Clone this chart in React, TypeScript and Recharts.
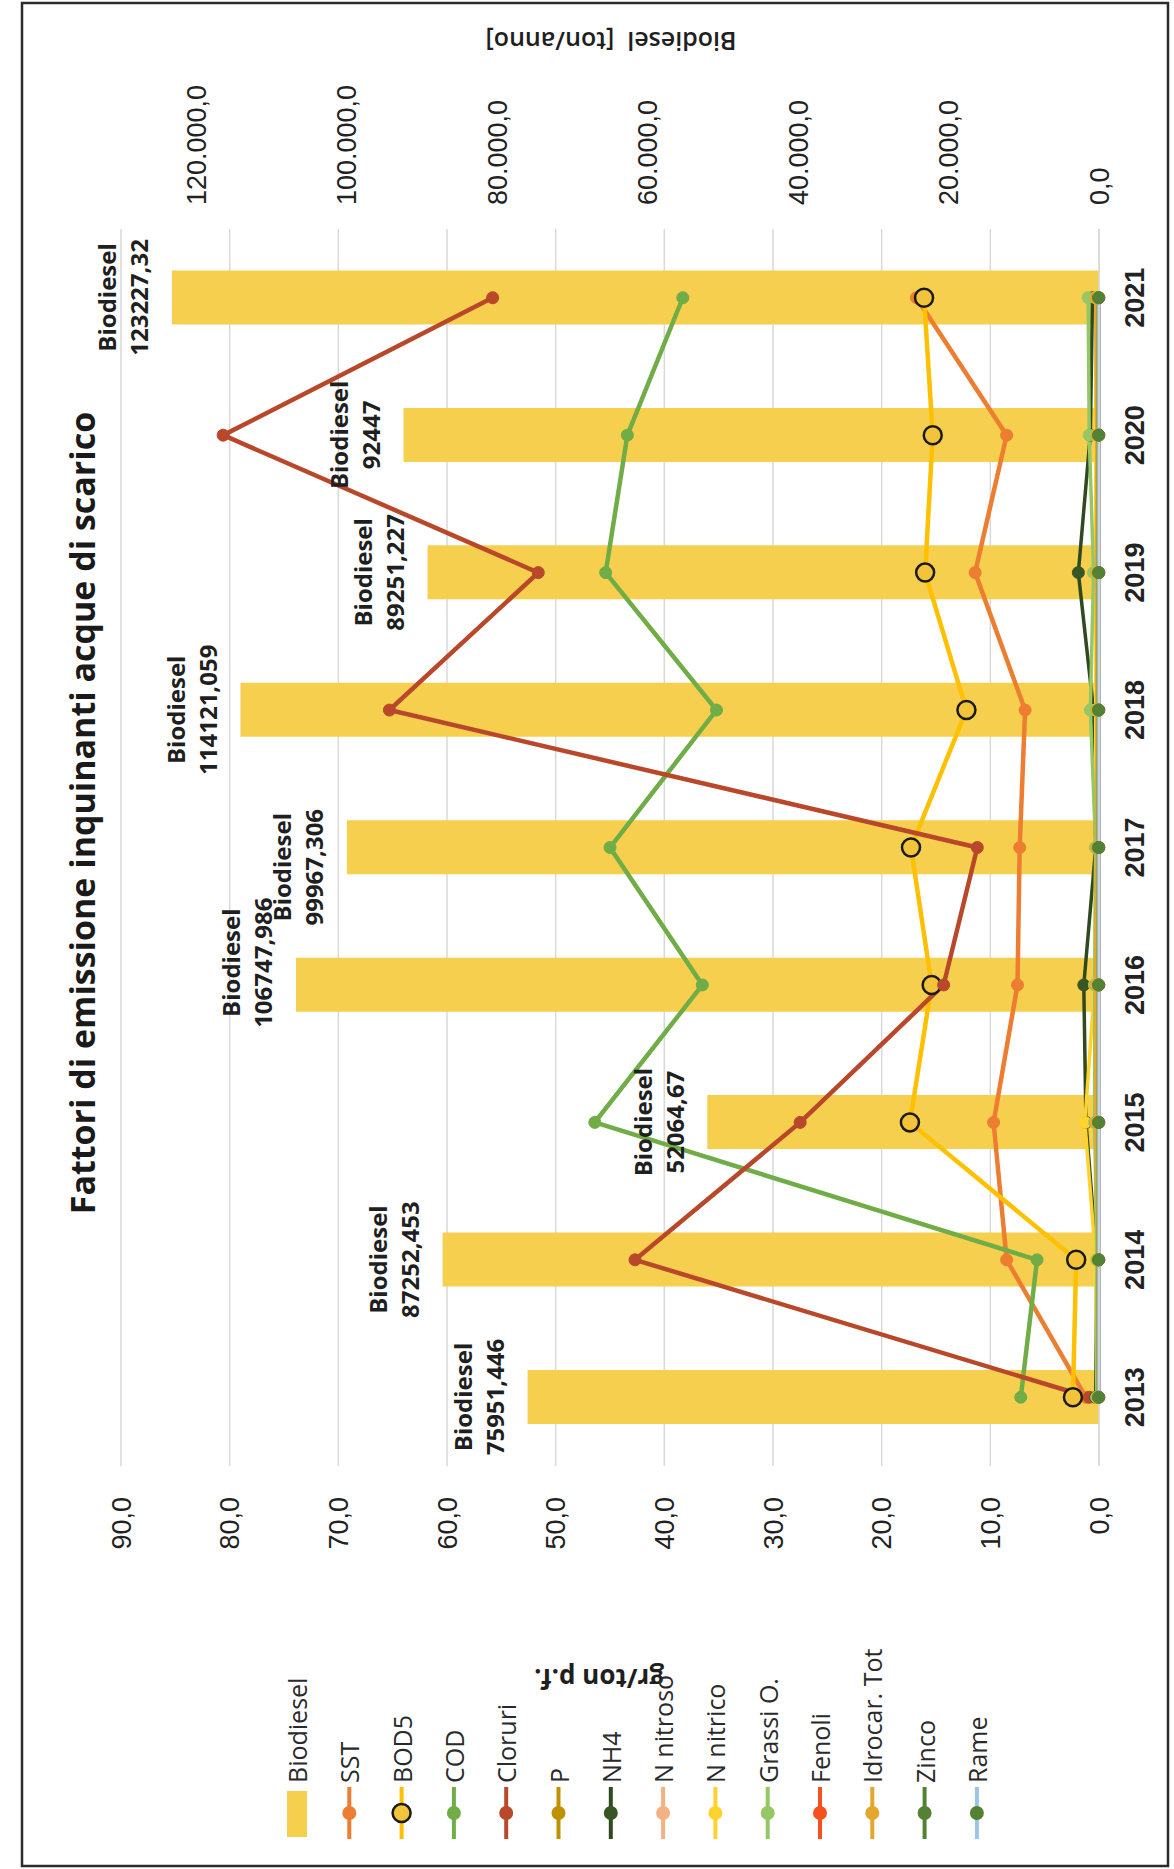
import React from "react";
import {
  ComposedChart,
  Bar,
  Line,
  XAxis,
  YAxis,
  CartesianGrid,
  LabelList,
} from "recharts";

// ----- Data -----
const years = ["2013", "2014", "2015", "2016", "2017", "2018", "2019", "2020", "2021"];
const biodiesel = [75951.446, 87252.453, 52064.67, 106747.986, 99967.306, 114121.059, 89251.227, 92447, 123227.32];
const sst = [1.2, 8.5, 9.7, 7.5, 7.3, 6.8, 11.4, 8.5, 16.8];
const bod5 = [2.4, 2.1, 17.4, 15.4, 17.3, 12.2, 16.0, 15.3, 16.1];
const cod = [7.2, 5.7, 46.4, 36.5, 45.0, 35.2, 45.4, 43.4, 38.3];
const cloruri = [0.9, 42.7, 27.5, 14.3, 11.2, 65.3, 51.6, 80.6, 55.8];
const p = [0.2, 0.1, 0.2, 0.2, 0.1, 0.1, 0.1, 0.1, 0.1];
const nh4 = [0.3, 0.2, 1.2, 1.4, 0.3, 0.5, 1.9, 0.8, 0.6];
const nNitroso = [0.1, 0.1, 0.1, 0.1, 0.05, 0.1, 0.1, 0.1, 0.1];
const nNitrico = [0.2, 0.3, 1.3, 0.4, 0.3, 0.3, 0.3, 0.3, 0.3];
const grassi = [0.2, 0.2, 0.4, 0.4, 0.3, 0.8, 0.5, 0.9, 1.0];
const fenoli = [0.02, 0.02, 0.03, 0.02, 0.02, 0.02, 0.02, 0.02, 0.02];
const idrocar = [0.1, 0.1, 0.3, 0.3, 0.2, 0.2, 0.2, 0.2, 0.3];
const zinco = [0.05, 0.05, 0.05, 0.05, 0.05, 0.05, 0.05, 0.05, 0.05];
const rame = [0.01, 0.01, 0.01, 0.01, 0.01, 0.01, 0.01, 0.01, 0.01];

const leftTicks = [0, 10, 20, 30, 40, 50, 60, 70, 80, 90];
const rightTicks = [0, 20000, 40000, 60000, 80000, 100000, 120000];

// ----- Series styling -----
const BAR_COLOR = "#F6CF4E";
const lines = [
  { key: "SST", values: sst, color: "#ED7D31", dot: "#ED7D31" },
  { key: "BOD5", values: bod5, color: "#FFC000", dot: "#F3C33A" },
  { key: "COD", values: cod, color: "#70AD47", dot: "#70AD47" },
  { key: "Cloruri", values: cloruri, color: "#B9482A", dot: "#B9482A" },
  { key: "P", values: p, color: "#BF9000", dot: "#BF9000" },
  { key: "NH4", values: nh4, color: "#2E4A1E", dot: "#375623" },
  { key: "N nitroso", values: nNitroso, color: "#F4B183", dot: "#F4B183" },
  { key: "N nitrico", values: nNitrico, color: "#FFD22E", dot: "#FFD22E" },
  { key: "Grassi O.", values: grassi, color: "#95C865", dot: "#95C865" },
  { key: "Fenoli", values: fenoli, color: "#F4511E", dot: "#F4511E" },
  { key: "Idrocar. Tot", values: idrocar, color: "#E2A72C", dot: "#E2A72C" },
  { key: "Zinco", values: zinco, color: "#548235", dot: "#548235" },
  { key: "Rame", values: rame, color: "#9DC3E6", dot: "#548235" },
];

const data = years.map((year, i) => {
  const row: Record<string, string | number> = { year, Biodiesel: biodiesel[i] };
  lines.forEach((s) => (row[s.key] = s.values[i]));
  return row;
});

// frame of the un-rotated chart (the picture is this chart turned 90° left)
const W = 1869;
const H = 1174;
const FONT = "'Liberation Sans', Arial, sans-serif";
const BOLD = "'Open Sans', 'Noto Sans', sans-serif";

// two labels were dragged sideways in the original
const labelShift = [0, 0, 0, 22, -20, 0, 0, 0, 0];

const fmtLeft = (v: number) => v.toFixed(1).replace(".", ",");
const fmtRight = (v: number) =>
  String(Math.round(v)).replace(/\B(?=(\d{3})+(?!\d))/g, ".") + ",0";
const fmtValue = (v: number) => String(v).replace(".", ",");

function BarLabel(props: any) {
  const { x, y, width, value, index } = props;
  const cx = Number(x) + Number(width) / 2 + (labelShift[index] || 0);
  const top = Number(y);
  const style = { fontFamily: BOLD, fontSize: 24, fontWeight: 700, fill: "#1f1f1f" };
  return (
    <g>
      <text x={cx} y={top - 65} textAnchor="middle" dominantBaseline="central" style={style}>
        Biodiesel
      </text>
      <text x={cx} y={top - 33} textAnchor="middle" dominantBaseline="central" style={style}>
        {fmtValue(Number(value))}
      </text>
    </g>
  );
}

function Overlay() {
  const startY = 297;
  const step = 52.3;
  const items = [{ key: "Biodiesel", color: BAR_COLOR, dot: BAR_COLOR }, ...lines];
  return (
    <svg
      width={W}
      height={H}
      style={{ position: "absolute", left: 0, top: 0, pointerEvents: "none" }}
    >
      <rect x={3} y={22} width={1863} height={1146} fill="none" stroke="#2b2b2b" strokeWidth={2.5} />
      <text
        x={1056}
        y={82}
        textAnchor="middle"
        dominantBaseline="central"
        style={{ fontFamily: BOLD, fontSize: 34, fontWeight: 700, fill: "#1a1a1a" }}
      >
        Fattori di emissione inquinanti acque di scarico
      </text>
      <text
        transform="translate(1827,611) rotate(-90)"
        textAnchor="middle"
        dominantBaseline="central"
        style={{ fontFamily: BOLD, fontSize: 25, fontWeight: 600, fill: "#1f1f1f", whiteSpace: "pre" }}
      >
        {"Biodiesel  [ton/anno]"}
      </text>
      <text
        transform="translate(190,599) rotate(-90)"
        textAnchor="middle"
        dominantBaseline="central"
        style={{ fontFamily: BOLD, fontSize: 26, fontWeight: 700, fill: "#1f1f1f" }}
      >
        gr/ton p.f.
      </text>
      {items.map((it, i) => {
        const cy = startY + i * step;
        return (
          <g key={it.key}>
            {it.key === "Biodiesel" ? (
              <rect x={32} y={cy - 10} width={46} height={20} fill={BAR_COLOR} />
            ) : (
              <>
                <line x1={30} x2={82} y1={cy} y2={cy} stroke={it.color} strokeWidth={4} />
                {it.key === "BOD5" ? (
                  <circle cx={56} cy={cy} r={9} fill="#F3C33A" stroke="#1a1a1a" strokeWidth={2.5} />
                ) : (
                  <circle cx={56} cy={cy} r={7} fill={it.dot} />
                )}
              </>
            )}
            <text
              x={86}
              y={cy}
              dominantBaseline="central"
              style={{ fontFamily: BOLD, fontSize: 25, fill: "#2a2a2a" }}
            >
              {it.key}
            </text>
          </g>
        );
      })}
    </svg>
  );
}

export default function App() {
  return (
    <div
      style={{
        position: "absolute",
        left: 0,
        top: 0,
        width: H,
        height: W,
        overflow: "hidden",
        background: "#fff",
      }}
    >
      <div
        style={{
          position: "absolute",
          left: 0,
          top: 0,
          width: W,
          height: H,
          transformOrigin: "0 0",
          transform: `translate(0px, ${W}px) rotate(-90deg)`,
          fontFamily: FONT,
        }}
      >
        <ComposedChart
          width={W}
          height={H}
          data={data}
          margin={{ top: 121, right: 29, bottom: 25, left: 303 }}
        >
          <CartesianGrid yAxisId="left" vertical={false} stroke="#D9D9D9" strokeWidth={1.5} />
          <XAxis
            dataKey="year"
            height={50}
            axisLine={{ stroke: "#D9D9D9", strokeWidth: 1.5 }}
            tickLine={false}
            tickSize={0}
            tickMargin={26}
            tick={{ fontFamily: FONT, fontSize: 27, fontWeight: 700, fill: "#222" }}
          />
          <YAxis
            yAxisId="left"
            width={100}
            domain={[0, 90]}
            ticks={leftTicks}
            tickFormatter={fmtLeft}
            axisLine={false}
            tickLine={false}
            tickSize={0}
            tickMargin={31}
            tick={{ fontFamily: FONT, fontSize: 27, fill: "#222" }}
          />
          <YAxis
            yAxisId="right"
            orientation="right"
            width={200}
            domain={[0, 130000]}
            ticks={rightTicks}
            tickFormatter={fmtRight}
            axisLine={false}
            tickLine={false}
            tickSize={0}
            tickMargin={24}
            tick={{ fontFamily: FONT, fontSize: 27, fill: "#222" }}
          />
          <Bar
            yAxisId="right"
            dataKey="Biodiesel"
            fill={BAR_COLOR}
            barSize={54}
            isAnimationActive={false}
          >
            <LabelList dataKey="Biodiesel" content={<BarLabel />} />
          </Bar>
          {lines.map((s) => (
            <Line
              key={s.key}
              yAxisId="left"
              type="linear"
              dataKey={s.key}
              stroke={s.color}
              strokeWidth={["Cloruri", "COD", "SST", "BOD5"].includes(s.key) ? 4.5 : 3.5}
              dot={
                s.key === "BOD5"
                  ? { r: 9, fill: "#F3C33A", stroke: "#1a1a1a", strokeWidth: 2.5 }
                  : { r: 6, fill: s.dot, stroke: s.dot, strokeWidth: 1 }
              }
              activeDot={false}
              isAnimationActive={false}
            />
          ))}
        </ComposedChart>
        <Overlay />
      </div>
    </div>
  );
}
